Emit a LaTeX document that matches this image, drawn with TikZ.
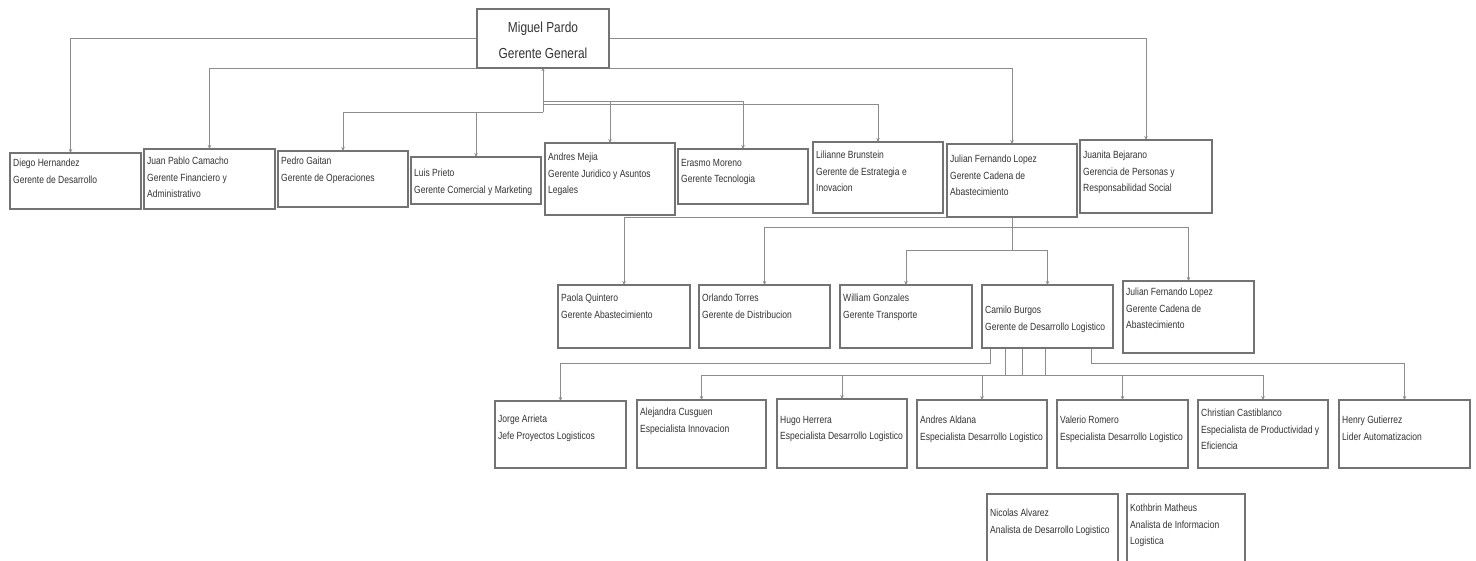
\documentclass[tikz,border=0pt]{standalone}
\usepackage{fontspec}
\newfontfamily\nf[FakeStretch=0.82]{Liberation Sans}
\usetikzlibrary{arrows.meta,calc}
\pgfdeclarelayer{bg}
\pgfsetlayers{bg,main}
\tikzset{
 box/.style={draw=black!55, line width=1.1pt, fill=white, inner sep=0pt, outer sep=0pt},
 txt/.style={font=\nf\fontsize{10.4}{16.5}\selectfont, text=black!80, align=left, inner sep=0pt, anchor=north west},
 bigtxt/.style={font=\nf\fontsize{14.5}{26}\selectfont, text=black!80, align=center, inner sep=0pt},
 line/.style={draw=black!45, line width=0.8pt},
 conn/.style={line, -{Stealth[length=4pt,width=3.5pt]}},
}
% name, x1, y1, x2, y2, first-line y, text
\newcommand\bx[7]{%
 \node[box, minimum width={#4-#2}, minimum height={#5-#3}] (#1) at ({(#2+#4)/2},{(#3+#5)/2}) {};
 \node[txt] (#1-t) at ({#2+3},{#6-4}) {#7};
}
\begin{document}
\begin{tikzpicture}[x=1pt,y=-1pt]
\clip (0,0) rectangle (1476,560);

% top
\node[box, minimum width=132, minimum height=59] (miguel) at (543,38.5) {};
\node[bigtxt] (miguel-t) at (543,40) {Miguel Pardo\\Gerente General};

% row 1
\bx{diego}{10}{153}{141}{209}{163}{Diego Hernandez\\Gerente de Desarrollo}
\bx{jp}{144}{149}{275}{209}{161}{Juan Pablo Camacho\\Gerente Financiero y\\Administrativo}
\bx{pedro}{278}{151}{408}{207}{161}{Pedro Gaitan\\Gerente de Operaciones}
\bx{luis}{411}{157}{541}{204}{173}{Luis Prieto\\Gerente Comercial y Marketing}
\bx{andres}{545}{143}{675}{215}{157}{Andres Mejia\\Gerente Juridico y Asuntos\\Legales}
\bx{erasmo}{678}{149}{808}{204}{163}{Erasmo Moreno\\Gerente Tecnologia}
\bx{lilianne}{813}{142}{943}{213}{155}{Lilianne Brunstein\\Gerente de Estrategia e\\Inovacion}
\bx{julian}{947}{144}{1077}{217}{159}{Julian Fernando Lopez\\Gerente Cadena de\\Abastecimiento}
\bx{juanita}{1080}{140}{1212}{213}{155}{Juanita Bejarano\\Gerencia de Personas y\\Responsabilidad Social}

% row 2
\bx{paola}{558}{285}{690}{348}{298}{Paola Quintero\\Gerente Abastecimiento}
\bx{orlando}{699}{285}{830}{348}{298}{Orlando Torres\\Gerente de Distribucion}
\bx{william}{840}{285}{972}{348}{298}{William Gonzales\\Gerente Transporte}
\bx{camilo}{982}{285}{1113}{348}{310}{Camilo Burgos\\Gerente de Desarrollo Logistico}
\bx{julianb}{1123}{281}{1254}{353}{292}{Julian Fernando Lopez\\Gerente Cadena de\\Abastecimiento}

% row 3
\bx{jorge}{495}{401}{626}{468}{419}{Jorge Arrieta\\Jefe Proyectos Logisticos}
\bx{alejandra}{637}{400}{766}{468}{412}{Alejandra Cusguen\\Especialista Innovacion}
\bx{hugo}{777}{399}{907}{468}{420}{Hugo Herrera\\Especialista Desarrollo Logistico}
\bx{aldana}{917}{400}{1047}{468}{420}{Andres Aldana\\Especialista Desarrollo Logistico}
\bx{valerio}{1057}{400}{1188}{468}{420}{Valerio Romero\\Especialista Desarrollo Logistico}
\bx{christian}{1198}{400}{1328}{468}{413}{Christian Castiblanco\\Especialista de Productividad y\\Eficiencia}
\bx{henry}{1339}{400}{1470}{468}{420}{Henry Gutierrez\\Lider Automatizacion}

% row 4
\bx{nicolas}{987}{494}{1118}{568}{513}{Nicolas Alvarez\\Analista de Desarrollo Logistico}
\bx{kothbrin}{1127}{494}{1245}{568}{508}{Kothbrin Matheus\\Analista de Informacion\\Logistica}

\begin{pgfonlayer}{bg}
\fill[white] (0,0) rectangle (1476,560);
% level 1
\coordinate (hL) at (miguel.south |- 0,112);
\coordinate (hR1) at (miguel.south |- 0,101);
\coordinate (hR2) at (miguel.south |- 0,104);
\draw[line, {Stealth[length=3pt,width=3pt]}-] (miguel.south) -- (hL);
\draw[conn] (hL) -| (luis.north);
\draw[conn] (hL) -| (pedro.north);
\draw[conn] (hR1) -| (andres.north);
\draw[conn] (hR1) -| (erasmo.north);
\draw[conn] (hR2) -| (lilianne.north);
\draw[conn] (miguel.west) -| ($(diego.north)+(-5,0)$);
\draw[conn] (miguel.east) -| (juanita.north);
\draw[conn] (miguel.south west) -| (jp.north);
\draw[conn] (miguel.south east) -| (julian.north);

% level 2
\coordinate (j1) at (julian.south |- 0,227);
\coordinate (j2) at (julian.south |- 0,250);
\draw[conn] (julian.south) -| (paola.north);
\draw[line] (julian.south) -- (j2);
\draw[conn] (j1) -| (orlando.north);
\draw[conn] (j1) -| (julianb.north);
\draw[conn] (j2) -| (william.north);
\draw[conn] (j2) -| (camilo.north);

% level 3
\coordinate (s1) at ($(camilo.south west)+(8,0)$);
\coordinate (s2) at ($(camilo.south west)+(23,0)$);
\coordinate (s3) at ($(camilo.south west)+(40,0)$);
\coordinate (s4) at ($(camilo.south west)+(63,0)$);
\coordinate (s5) at ($(camilo.south east)+(-22,0)$);
\coordinate (h3) at ($(s3)+(0,27)$);
\coordinate (h4) at ($(s4)+(0,27)$);
\draw[conn] (s1) -- ++(0,15) -| (jorge.north);
\draw[line] (s2) -- ++(0,27) -- (h3);
\draw[line] (s3) -- (h3);
\draw[line] (s4) -- (h4) -- (h3);
\draw[conn] (h3) -| (alejandra.north);
\draw[conn] (h3) -| (hugo.north);
\draw[conn] (h3) -| (aldana.north);
\draw[conn] (h4) -| (valerio.north);
\draw[conn] (h4) -| (christian.north);
\draw[conn] (s5) -- ++(0,15) -| (henry.north);
\end{pgfonlayer}
\end{tikzpicture}
\end{document}
